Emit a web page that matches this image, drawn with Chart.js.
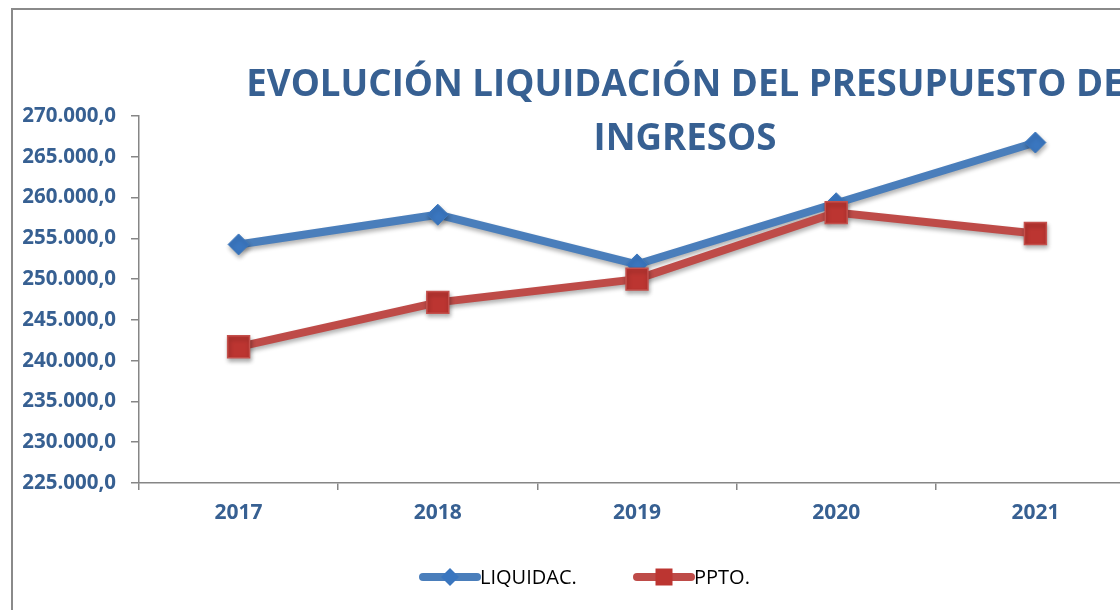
<!DOCTYPE html>
<html lang="es">
<head>
<meta charset="UTF-8">
<title>Evolución liquidación del presupuesto de ingresos</title>
<script src="https://cdn.jsdelivr.net/npm/chart.js@4"></script>
<style>
  html, body { margin: 0; padding: 0; background: #fff; overflow: hidden; }
  #wrap { position: absolute; left: 0; top: 0; width: 1160px; height: 610px; }
</style>
</head>
<body>
<div id="wrap"><canvas id="chart" width="1160" height="610"></canvas></div>
<script>
// data
const years = ['2017', '2018', '2019', '2020', '2021'];
const liquidac = [254250, 257900, 251800, 259300, 266750];
const ppto = [241700, 247150, 250000, 258150, 255600];
const yMin = 225000;
const yMax = 270000;
const yStep = 5000;
const titleLines = ['EVOLUCIÓN LIQUIDACIÓN DEL PRESUPUESTO DE', 'INGRESOS'];
const seriesNames = ['LIQUIDAC.', 'PPTO.'];

const BLUE_TXT = '#376092';
const AXIS = '#868686';
const FONT = '"Open Sans", "DejaVu Sans", sans-serif';

// 270000 -> "270.000,0"
function fmt(v) {
    return String(v).replace(/\B(?=(\d{3})+(?!\d))/g, '.') + ',0';
}

// white background + grey frame of the chart object
const framePlugin = {
    id: 'frame',
    beforeDraw(chart) {
        const c = chart.ctx;
        c.save();
        c.fillStyle = '#fff';
        c.fillRect(0, 0, chart.width, chart.height);
        c.strokeStyle = '#8a8a8a';
        c.lineWidth = 2;
        c.strokeRect(12, 9, 1400, 800);
        c.restore();
    }
};

// two-line title, centred like the original
const titlePlugin = {
    id: 'bigTitle',
    afterDraw(chart) {
        const c = chart.ctx;
        c.save();
        c.fillStyle = BLUE_TXT;
        c.font = 'bold 36.7px ' + FONT;
        c.textAlign = 'center';
        c.textBaseline = 'alphabetic';
        c.fillText(titleLines[0], 685, 96);
        c.fillText(titleLines[1], 685, 150);
        c.restore();
    }
};

// drop shadow under the series, as in the Excel original
const shadowPlugin = {
    id: 'shadow',
    beforeDatasetsDraw(chart) {
        const c = chart.ctx;
        c.save();
        c.shadowColor = 'rgba(0,0,0,0.3)';
        c.shadowBlur = 4;
        c.shadowOffsetX = 1;
        c.shadowOffsetY = 3;
    },
    afterDatasetsDraw(chart) {
        chart.ctx.restore();
    }
};

// legend: thick line with the marker in the middle
const legendPlugin = {
    id: 'lineLegend',
    afterDraw(chart) {
        const c = chart.ctx;
        const y = chart.chartArea.bottom + 94;
        const items = [
            { x: 423, ds: chart.data.datasets[0] },
            { x: 637, ds: chart.data.datasets[1] }
        ];
        c.save();
        items.forEach(it => {
            c.strokeStyle = it.ds.borderColor;
            c.lineWidth = 8;
            c.lineCap = 'round';
            c.beginPath();
            c.moveTo(it.x, y);
            c.lineTo(it.x + 54, y);
            c.stroke();
            const mx = it.x + 27;
            c.fillStyle = it.ds.pointBackgroundColor;
            c.beginPath();
            if (it.ds.pointStyle === 'rectRot') {
                c.moveTo(mx - 9, y);
                c.lineTo(mx, y - 9);
                c.lineTo(mx + 9, y);
                c.lineTo(mx, y + 9);
                c.closePath();
            } else {
                c.rect(mx - 8.5, y - 8.5, 17, 17);
            }
            c.fill();
            c.fillStyle = '#000';
            c.font = '20px ' + FONT;
            c.textAlign = 'left';
            c.textBaseline = 'middle';
            c.fillText(it.ds.label, it.x + 57, y + 1);
        });
        c.restore();
    }
};

const ctx = document.getElementById('chart').getContext('2d');
const chart = new Chart(ctx, {
    type: 'line',
    data: {
        labels: years,
        datasets: [{
            label: seriesNames[0],
            data: liquidac,
            borderColor: '#4A7EBB',
            borderWidth: 8,
            pointStyle: 'rectRot',
            pointRadius: 10.5,
            pointBackgroundColor: '#3A76BF',
            pointBorderColor: '#3F79BD',
            pointBorderWidth: 1,
            tension: 0,
            order: 2
        }, {
            label: seriesNames[1],
            data: ppto,
            borderColor: '#BE4B48',
            borderWidth: 8,
            pointStyle: 'rect',
            pointRadius: 15.5,
            pointBackgroundColor: '#BC3531',
            pointBorderColor: '#C4504C',
            pointBorderWidth: 1.5,
            tension: 0,
            order: 1
        }]
    },
    options: {
        responsive: false,
        animation: false,
        events: [],
        layout: { padding: { top: 116, right: 25, left: 0, bottom: 0 } },
        plugins: {
            legend: { display: false },
            title: { display: false },
            tooltip: { enabled: false }
        },
        scales: {
            x: {
                offset: true,
                grid: { offset: true, drawOnChartArea: false, tickLength: 7, color: AXIS, lineWidth: 1.5 },
                border: { color: AXIS, width: 1.5 },
                ticks: { color: BLUE_TXT, font: { family: FONT, size: 21, weight: 'bold' }, padding: 10, maxRotation: 0 },
                afterFit: s => { s.height = 127; }
            },
            y: {
                min: yMin,
                max: yMax,
                grid: { drawOnChartArea: false, tickLength: 8, color: AXIS, lineWidth: 1.5 },
                border: { color: AXIS, width: 1.5 },
                ticks: {
                    stepSize: yStep,
                    color: BLUE_TXT,
                    font: { family: FONT, size: 20.5, weight: 'bold' },
                    padding: 15,
                    callback: v => fmt(v)
                },
                afterFit: s => { s.width = 139; }
            }
        }
    },
    plugins: [framePlugin, shadowPlugin, titlePlugin, legendPlugin]
});
</script>
</body>
</html>
